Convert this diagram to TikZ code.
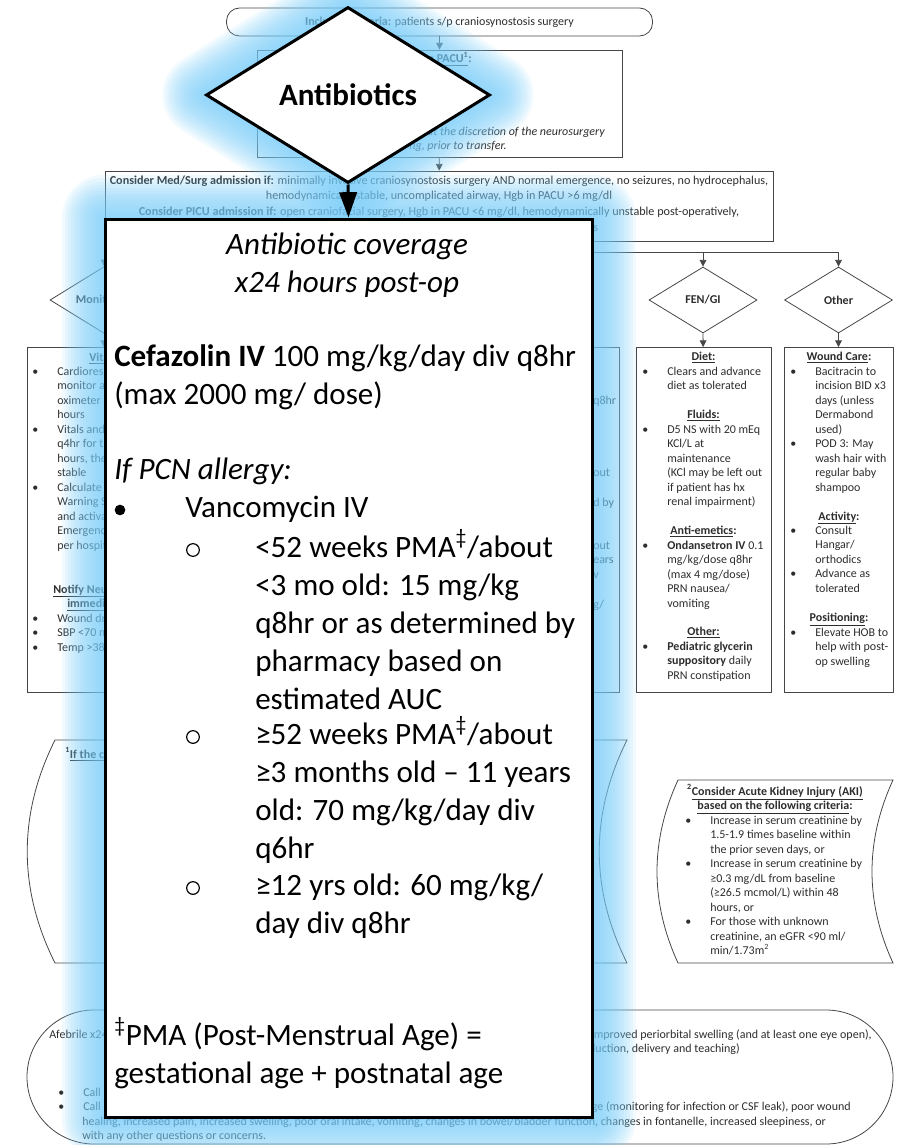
\documentclass[tikz,border=0pt]{standalone}
\usepackage{fontspec}
\setmainfont{Carlito}
\usetikzlibrary{arrows.meta, positioning, calc, shapes.geometric}
\definecolor{garis}{RGB}{70,70,70}
\definecolor{tinta}{RGB}{45,45,45}
\definecolor{glowblue}{RGB}{118,203,248}
\newlength\satuan \setlength\satuan{0.75pt}
\newlength\indn \setlength\indn{18.75pt}
\newcommand\butir{\makebox[\indn][l]{\textbullet}}
\newcommand\sela{\hspace*{\indn}}
\pgfdeclarelayer{bawah}
\pgfdeclarelayer{sinar}
\pgfsetlayers{bawah,sinar,main}

\begin{document}
\begin{tikzpicture}[x=\satuan, y=-\satuan,
    kotak/.style={draw=garis, line width=0.6pt, rectangle, inner sep=0pt},
    bulat/.style={kotak, rounded corners=13\satuan},
    wajik/.style={draw=garis, line width=0.6pt, diamond, inner sep=0pt,
                  minimum width=108\satuan, minimum height=66\satuan,
                  font=\fontsize{9}{10.9}\selectfont\bfseries, text=tinta},
    teks/.style={inner sep=0pt, font=\fontsize{9}{10.875}\selectfont, text=tinta, align=left},
    miring/.style={teks, font=\fontsize{9}{10.875}\selectfont\itshape},
    judul/.style={teks, font=\fontsize{9}{10.875}\selectfont\bfseries, align=center},
    panah/.style={-{Triangle[length=5pt, width=5pt]}, draw=garis, line width=0.6pt},
    besar/.style={inner sep=0pt, font=\fontsize{23.3}{28.5}\selectfont, align=left},
    cahaya/.style={draw=glowblue, opacity=0.1, line join=round},
    tebal/.style={draw=black, line width=2.25pt, fill=white, inner sep=0pt}
  ]
  \useasboundingbox (0,0) rectangle (900,1145);

  \begin{pgfonlayer}{bawah}
    % alur utama
    \node[bulat, minimum width=426\satuan, minimum height=28\satuan, teks] (incl) at (439.5,22)
      {\textbf{Inclusion criteria:} patients s/p craniosynostosis surgery};
    \node[kotak, minimum width=365\satuan, minimum height=107\satuan] (pacu) at (439.5,103.5) {};
    \node[teks, anchor=base east] (pacuhd) at (472,63) {\textbf{\underline{n PACU\textsuperscript{1}}:}};
    \node[miring, anchor=base east] (pacu1) at (605,136) {at the discretion of the neurosurgery};
    \node[miring, anchor=base east] (pacu2) at (507,150) {ng, prior to transfer.};
    \node[kotak, minimum width=668\satuan, minimum height=70\satuan] (admit) at (439,206) {};
    \node[teks, align=center, anchor=base, font=\fontsize{9.1}{11.6}\selectfont] (admittx) at (439,215)
      {\textbf{Consider Med/Surg admission if:} minimally invasive craniosynostosis surgery AND normal emergence, no seizures, no hydrocephalus,\\
       hemodynamically stable, uncomplicated airway, Hgb in PACU >6 mg/dl\\
       \textbf{Consider PICU admission if:} open craniofacial surgery, Hgb in PACU <6 mg/dl, hemodynamically unstable post-operatively,};
    \node[teks, anchor=base west] (admit4) at (593,231) {s};
    \draw[panah] (incl) -- (pacu);
    \draw[panah] (pacu) -- (admit);

    % cabang
    \node[wajik] (monit) at (104,300) {Monitoring};
    \node[wajik] (fen) at (703,300) {FEN/GI};
    \node[wajik] (other) at (838.5,300) {Other};
    \coordinate (bus) at (439,252);
    \draw[garis, line width=0.6pt] (admit.south) -- (bus);
    \draw[panah] (bus) -| (monit.north);
    \draw[panah] (bus) -| (fen.north);
    \draw[panah] (bus) -| (other.north);

    \node[kotak, minimum width=154\satuan, minimum height=345\satuan] (vitbox) at (104,520) {};
    \node[kotak, minimum width=135\satuan, minimum height=345\satuan] (midbox) at (551.5,520) {};
    \node[kotak, minimum width=135\satuan, minimum height=345\satuan] (fenbox) at (703.5,520) {};
    \node[kotak, minimum width=109\satuan, minimum height=345\satuan] (otherbox) at (838.5,520) {};
    \draw[panah] (monit) -- (vitbox);
    \draw[panah] (fen) -- (fenbox);
    \draw[panah] (other) -- (otherbox);

    % kolom kiri (base = baris terakhir)
    \node[teks, anchor=base west] (vithd) at (89,361) {\textbf{\underline{Vitals}}};
    \node[teks, anchor=base west] (vitls) at (32,549)
      {\butir Cardiorespiratory\\ \sela monitor and pulse\\ \sela oximeter\\ \sela hours\\
       \butir Vitals and\\ \sela q4hr for the\\ \sela hours, then\\ \sela stable\\
       \butir Calculate\\ \sela Warning Score\\ \sela and activate\\ \sela Emergency\\ \sela per hospital};
    \node[teks, anchor=base west] (notify1) at (53,593) {\textbf{\underline{Notify Neuro}}};
    \node[teks, anchor=base west] (notify2) at (67,607) {\textbf{\underline{immediately}}};
    \node[teks, anchor=base west] (notifyls) at (32,651)
      {\butir Wound dr\\ \butir SBP <70 m\\ \butir Temp >38};

    % kolom tengah (sisa yang terlihat)
    \node[teks, anchor=base west] (mid1) at (593,404) {q8hr};
    \node[teks, anchor=base west] (mid2) at (593,476) {out};
    \node[teks, anchor=base west] (mid3) at (593,506) {d by};
    \node[teks, anchor=base west] (mid4) at (593,578) {out\\ ears\\ v};
    \node[teks, anchor=base west] (mid5) at (593,608) {g/};

    % FEN/GI
    \node[judul, anchor=base] (diethd) at (703.5,360) {\underline{Diet:}};
    \node[teks, anchor=base west] (dietls) at (642,389.5) {\butir Clears and advance\\ \sela diet as tolerated};
    \node[judul, anchor=base] (fluidhd) at (703.5,418) {\underline{Fluids:}};
    \node[teks, anchor=base west] (fluidls) at (642,505.5)
      {\butir D5 NS with 20 mEq\\ \sela KCl/L at\\ \sela maintenance\\ \sela (KCl may be left out\\ \sela if patient has hx\\ \sela renal impairment)};
    \node[judul, anchor=base] (emeshd) at (703.5,534) {\underline{Anti-emetics}:};
    \node[teks, anchor=base west] (emesls) at (642,607)
      {\butir \textbf{Ondansetron IV} 0.1\\ \sela mg/kg/dose q8hr\\ \sela (max 4 mg/dose)\\ \sela PRN nausea/\\ \sela vomiting};
    \node[judul, anchor=base] (othhd) at (703.5,635) {\underline{Other:}};
    \node[teks, anchor=base west] (othls) at (642,679)
      {\butir \textbf{Pediatric glycerin}\\ \sela \textbf{suppository} daily\\ \sela PRN constipation};

    % Other
    \node[judul, anchor=base] (woundhd) at (839,360) {\underline{Wound Care}:};
    \node[teks, anchor=base west] (woundls) at (790,491)
      {\butir Bacitracin to\\ \sela incision BID x3\\ \sela days (unless\\ \sela Dermabond\\ \sela used)\\
       \butir POD 3: May\\ \sela wash hair with\\ \sela regular baby\\ \sela shampoo};
    \node[judul, anchor=base] (acthd) at (839,520) {\underline{Activity}:};
    \node[teks, anchor=base west] (actls) at (790,592)
      {\butir Consult\\ \sela Hangar/\\ \sela orthodics\\ \butir Advance as\\ \sela tolerated};
    \node[judul, anchor=base] (poshd) at (839,621) {\underline{Positioning}:};
    \node[teks, anchor=base west] (posls) at (790,665)
      {\butir Elevate HOB to\\ \sela help with post-\\ \sela op swelling};

    % catatan kaki
    \draw[garis, line width=0.6pt] (55,740) -- (627,740) .. controls (590,814) and (590,889) .. (627,963)
      -- (55,963) .. controls (18,889) and (18,814) .. (55,740) -- cycle;
    \node[teks, anchor=base west] (fn1) at (65,758) {\textbf{\textsuperscript{1}\underline{If the c}}};
    \draw[garis, line width=0.6pt] (678,780) -- (893,780) .. controls (865,841) and (865,902) .. (893,963)
      -- (678,963) .. controls (650,902) and (650,841) .. (678,780) -- cycle;
    \node[judul, anchor=base] (akihd) at (775,809.5)
      {\textsuperscript{2}\underline{Consider Acute Kidney Injury (AKI)}\\ \underline{based on the following criteria}:};
    \node[teks, anchor=base west] (akils) at (685,954.5)
      {\butir Increase in serum creatinine by\\ \sela 1.5-1.9 times baseline within\\ \sela the prior seven days, or\\
       \butir Increase in serum creatinine by\\ \sela ≥0.3 mg/dL from baseline\\ \sela (≥26.5 mcmol/L) within 48\\ \sela hours, or\\
       \butir For those with unknown\\ \sela creatinine, an eGFR <90 ml/\\ \sela min/1.73m\textsuperscript{2}};

    % kriteria pulang
    \node[kotak, rounded corners=67\satuan, minimum width=866\satuan, minimum height=134\satuan] (disch) at (460,1077) {};
    \node[teks, anchor=base west] (dc1) at (49,1038) {Afebrile x24};
    \node[teks, anchor=base east] (dc2) at (872,1038) {mproved periorbital swelling (and at least one eye open),};
    \node[teks, anchor=base east] (dc3) at (740,1052) {duction, delivery and teaching)};
    \node[teks, anchor=base west] (dc4) at (58,1110.5) {\butir Call\\ \butir Call};
    \node[teks, anchor=base east] (dc5) at (851,1110) {ge (monitoring for infection or CSF leak), poor wound};
    \node[teks, anchor=base west] (dc6) at (82,1139.5)
      {healing, increased pain, increased swelling, poor oral intake, vomiting, changes in bowel/bladder function, changes in fontanelle, increased sleepiness, or\\
       with any other questions or concerns.};
  \end{pgfonlayer}

  % sorotan antibiotik
  \node[tebal, minimum width=487\satuan, minimum height=898\satuan] (abxbox) at (348.5,668) {};
  \node[tebal, diamond, minimum width=284\satuan, minimum height=176\satuan,
        font=\fontsize{23.3}{28}\selectfont\bfseries] (abx) at (348,95) {Antibiotics};
  \draw[-{Triangle[length=19pt, width=13pt]}, line width=2.25pt] (abx.south) -- (abxbox.north);

  \node[besar, align=center, font=\fontsize{23.3}{28.5}\selectfont\itshape, anchor=base] (cov) at (347,292)
    {Antibiotic coverage\\ x24 hours post-op};
  \node[besar, anchor=base west] (cef) at (114,404) {\textbf{Cefazolin IV} 100 mg/kg/day div q8hr\\ (max 2000 mg/ dose)};
  \node[besar, anchor=base west, font=\fontsize{23.3}{28.5}\selectfont\itshape] (pcn) at (114,479) {If PCN allergy:};
  \node[circle, fill=black, inner sep=0pt, minimum size=8pt] (dot1) at (120,510) {};
  \node[besar, anchor=base west] (vanc) at (185,517) {Vancomycin IV};
  \foreach \y/\n in {550/o1, 737/o2, 888/o3}
    \node[circle, draw=black, line width=0.9pt, inner sep=0pt, minimum size=9.5pt] (\n) at (193,\y) {};
  \node[besar, anchor=base west] (sub1) at (255,709)
    {<52 weeks PMA\textsuperscript{\ddag}/about\\ <3 mo old: 15 mg/kg\\ q8hr or as determined by\\ pharmacy based on\\ estimated AUC};
  \node[besar, anchor=base west] (sub2) at (255,858)
    {≥52 weeks PMA\textsuperscript{\ddag}/about\\ ≥3 months old – 11 years\\ old: 70 mg/kg/day div\\ q6hr};
  \node[besar, anchor=base west] (sub3) at (255,933) {≥12 yrs old: 60 mg/kg/\\ day div q8hr};
  \node[besar, anchor=base west] (pma) at (114,1083)
    {\textsuperscript{\ddag}PMA (Post-Menstrual Age) =\\ gestational age + postnatal age};

  \begin{pgfonlayer}{sinar}
    \foreach \w in {6,12,...,84} {
      \draw[cahaya, line width=\w\satuan] (abxbox.north west) rectangle (abxbox.south east);
      \draw[cahaya, line width=\w\satuan] (abx.north) -- (abx.east) -- (abx.south) -- (abx.west) -- cycle;
    }
  \end{pgfonlayer}
\end{tikzpicture}
\end{document}
